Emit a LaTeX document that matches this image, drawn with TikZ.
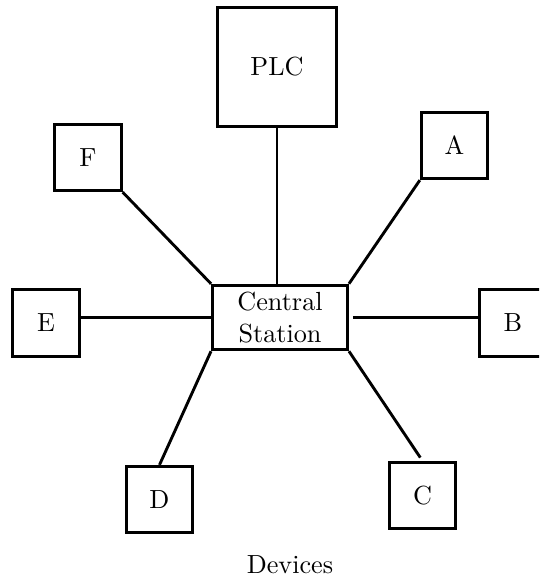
\documentclass[tikz,border=0pt]{standalone}
\begin{document}
\begin{tikzpicture}[x=0.3817pt,y=-0.3817pt,
  box/.style={draw,line width=1.15pt,minimum size=25.3pt,inner sep=1pt},
  bigbox/.style={box,minimum size=45.3pt},
  hub/.style={box,minimum width=51.5pt,minimum height=24.6pt,align=center},
  link/.style={line width=1.1pt}]
\clip (0,0) rectangle (539,581);
\useasboundingbox (0,0) rectangle (539,581);
% central station and the connected units
\node[hub] (cs) at (280,317.5) {Central\\Station};
\node[bigbox] (plc) at (277,67) {PLC};
\node[box] (a) at (454.5,145.5) {A};
\node[box] (b) at (513,323) {B};
\node[box] (c) at (422.5,495.5) {C};
\node[box] (d) at (159.5,499.5) {D};
\node[box] (e) at (46,323) {E};
\node[box] (f) at (88,157.5) {F};
\node[anchor=base] (dev) at (290,573) {Devices};
% wiring
\draw[link] (plc.south) -- (plc.south |- cs.north);
\draw[link] (f.south east) -- (cs.north west);
\draw[link] (a.south west) -- (cs.north east);
\draw[link] (cs.west) -- (cs.west -| e.east);
\draw[link] ([xshift=1.5pt]cs.east) -- (cs.east -| b.west);
\draw[link] (cs.south west) -- (d.north);
\draw[link,shorten >=1.5pt] (cs.south east) -- (c.north);
\end{tikzpicture}
\end{document}
